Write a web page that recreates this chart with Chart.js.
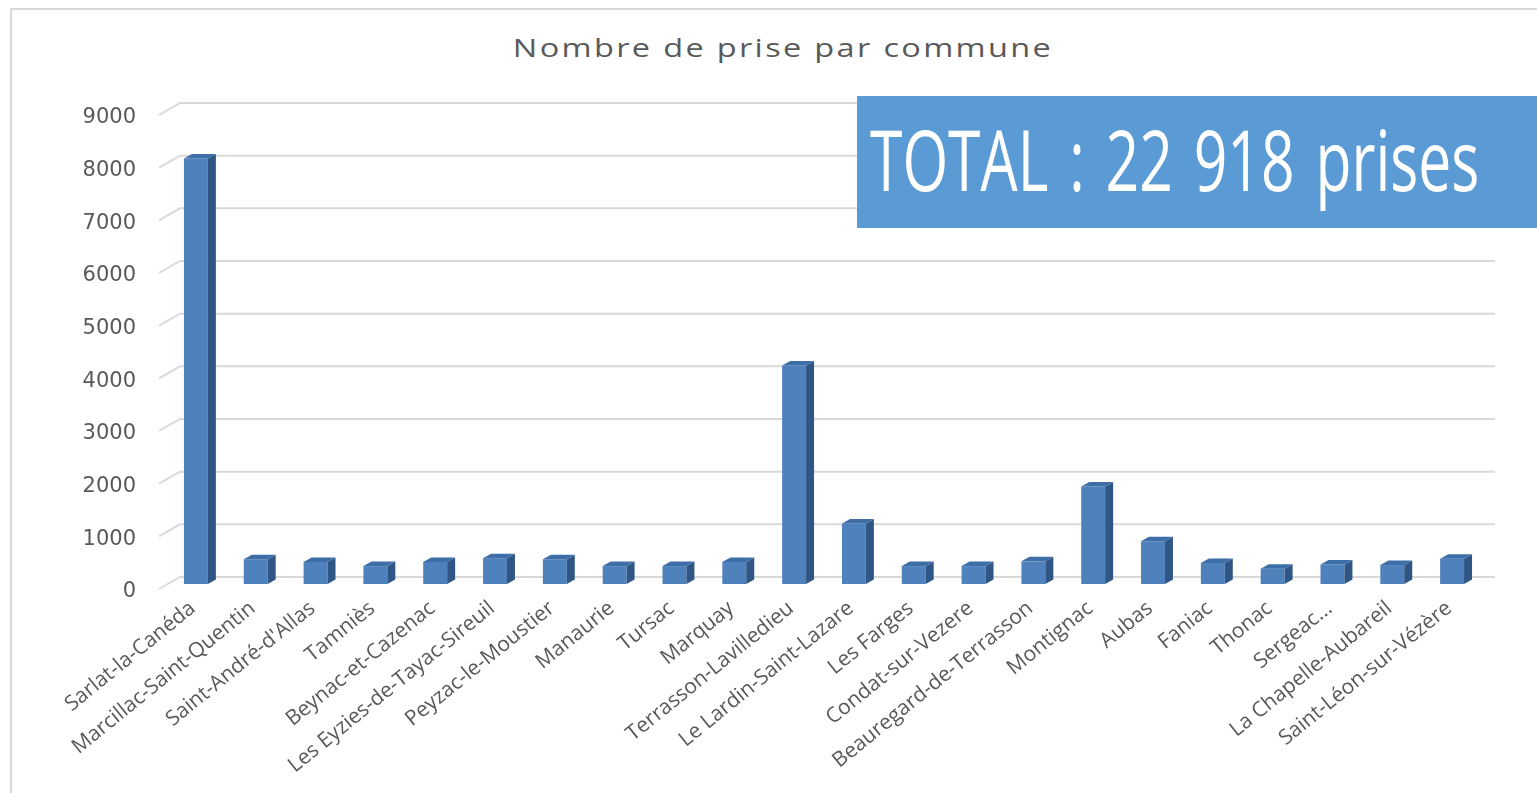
<!DOCTYPE html>
<html lang="fr">
<head>
<meta charset="utf-8">
<title>Nombre de prise par commune</title>
<script src="https://cdn.jsdelivr.net/npm/chart.js@4/dist/chart.umd.min.js"></script>
<style>
    html, body { margin: 0; padding: 0; background: #fff; overflow: hidden; }
    body { width: 1537px; height: 793px; position: relative; }
    #cadre { position: absolute; left: 10px; top: 8px; width: 1700px; height: 900px; border: 2px solid #d9d9d9; box-sizing: border-box; }
    #titre { position: absolute; left: 783px; top: 30px; font-family: "Open Sans", sans-serif; font-size: 25px; letter-spacing: 1.8px; color: #595959; white-space: nowrap; transform: translateX(-50%) scaleX(1.3); }
    #graph { position: absolute; left: 0; top: 0; }
    #total { position: absolute; left: 857px; top: 96px; width: 800px; height: 132px; background: #5b9bd5; overflow: hidden; }
    #total span { position: absolute; left: 13px; top: 5px; font-family: "Open Sans", sans-serif; font-size: 84px; word-spacing: 8px; color: #fff; white-space: nowrap; transform: scaleX(0.7); transform-origin: left top; }
</style>
</head>
<body>
<div id="cadre"></div>
<div id="titre">Nombre de prise par commune</div>
<canvas id="graph" width="1537" height="793"></canvas>
<div id="total"><span>TOTAL : 22 918 prises</span></div>
<script>
// Communes et nombre de prises
const communes = ["Sarlat-la-Canéda", "Marcillac-Saint-Quentin", "Saint-André-d'Allas", "Tamniès",
    "Beynac-et-Cazenac", "Les Eyzies-de-Tayac-Sireuil", "Peyzac-le-Moustier", "Manaurie", "Tursac",
    "Marquay", "Terrasson-Lavilledieu", "Le Lardin-Saint-Lazare", "Les Farges", "Condat-sur-Vezere",
    "Beauregard-de-Terrasson", "Montignac", "Aubas", "Faniac", "Thonac", "Sergeac...",
    "La Chapelle-Aubareil", "Saint-Léon-sur-Vézère"];
const prises = [8080, 470, 420, 340, 420, 490, 470, 340, 340, 420, 4150, 1150,
    340, 340, 430, 1850, 810, 400, 290, 370, 360, 480];
const graduations = [0, 1000, 2000, 3000, 4000, 5000, 6000, 7000, 8000, 9000];

// Grille "3D" : lignes au fond + petit biais vers l'axe
const grille3d = {
    id: 'grille3d',
    beforeDatasetsDraw(chart) {
        const ctx = chart.ctx;
        const y = chart.scales.y;
        ctx.save();
        ctx.strokeStyle = '#d9d9d9';
        ctx.lineWidth = 2;
        graduations.forEach(v => {
            const py = y.getPixelForValue(v);
            ctx.beginPath();
            ctx.moveTo(159, py + 5);
            ctx.lineTo(180, py - 7);
            ctx.lineTo(1495, py - 7);
            ctx.stroke();
        });
        ctx.restore();
    }
};

// Faces latérales et dessus des barres
const barres3d = {
    id: 'barres3d',
    afterDatasetsDraw(chart) {
        const ctx = chart.ctx;
        const dx = 8, dy = 4.5;
        ctx.save();
        chart.getDatasetMeta(0).data.forEach(bar => {
            const g = bar.x - bar.width / 2;
            const d = bar.x + bar.width / 2;
            ctx.fillStyle = '#2f5685';
            ctx.beginPath();
            ctx.moveTo(d, bar.y);
            ctx.lineTo(d + dx, bar.y - dy);
            ctx.lineTo(d + dx, bar.base - dy);
            ctx.lineTo(d, bar.base);
            ctx.closePath();
            ctx.fill();
            ctx.fillStyle = '#3e6ea8';
            ctx.beginPath();
            ctx.moveTo(g, bar.y);
            ctx.lineTo(g + dx, bar.y - dy);
            ctx.lineTo(d + dx, bar.y - dy);
            ctx.lineTo(d, bar.y);
            ctx.closePath();
            ctx.fill();
        });
        ctx.restore();
    }
};

const ctx = document.getElementById('graph').getContext('2d');
new Chart(ctx, {
    type: 'bar',
    data: {
        labels: communes,
        datasets: [{
            label: 'Nombre de prise',
            data: prises,
            backgroundColor: '#4f81bd',
            borderWidth: 0,
            barPercentage: 0.4,
            categoryPercentage: 1
        }]
    },
    options: {
        responsive: false,
        animation: false,
        devicePixelRatio: 1,
        layout: { padding: { left: 0, right: 55, top: 110, bottom: 0 } },
        plugins: {
            legend: { display: false },
            title: { display: false },
            tooltip: { enabled: false }
        },
        scales: {
            x: {
                grid: { display: false, drawTicks: false },
                border: { display: false },
                ticks: {
                    autoSkip: false,
                    maxRotation: 39,
                    minRotation: 39,
                    padding: 12,
                    labelOffset: -3,
                    color: '#595959',
                    font: { family: 'Open Sans', size: 21 }
                },
                afterFit(s) { s.height = 209; }
            },
            y: {
                min: 0,
                max: 9000,
                grid: { display: false, drawTicks: false },
                border: { display: false },
                ticks: {
                    stepSize: 1000,
                    padding: 30,
                    labelOffset: 8,
                    color: '#595959',
                    font: { family: 'DejaVu Sans', size: 21 },
                    callback: v => String(v)
                },
                afterFit(s) { s.width = 166; }
            }
        }
    },
    plugins: [grille3d, barres3d]
});
</script>
</body>
</html>
